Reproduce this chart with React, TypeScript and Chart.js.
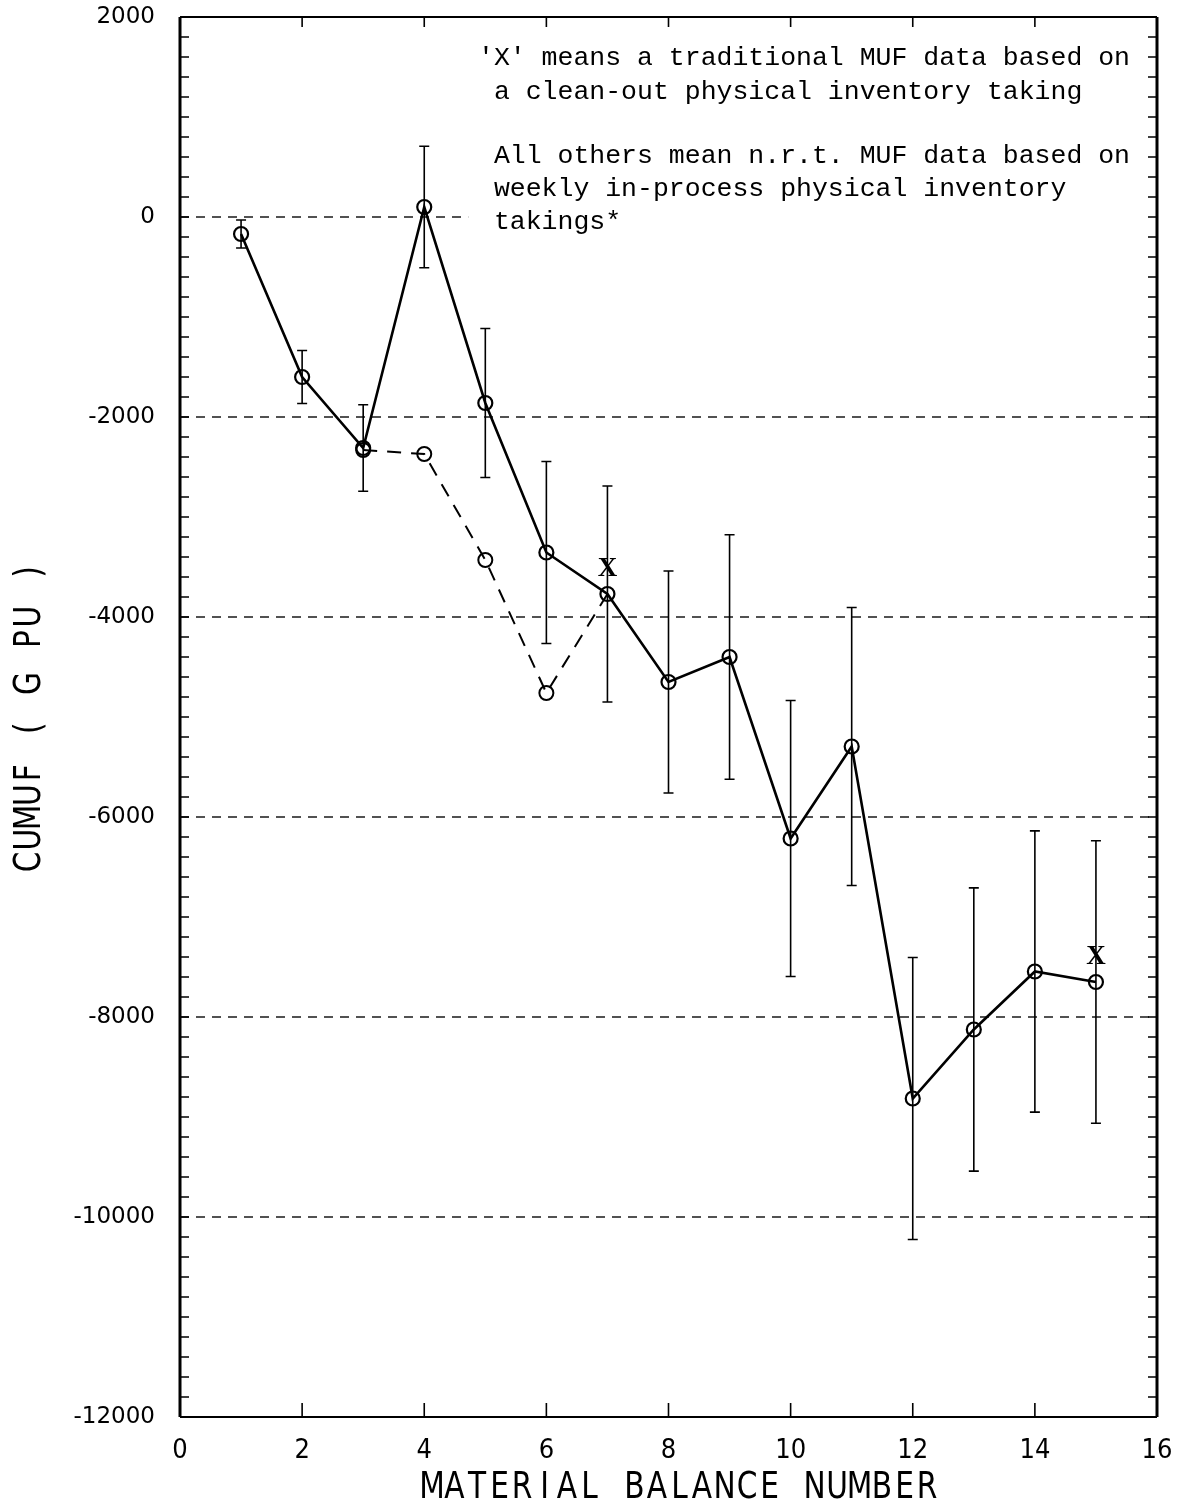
import React, { useEffect, useRef } from "react";
import { Chart, registerables } from "chart.js";

Chart.register(...registerables);

// ---- data ----
const balanceNumbers = [1, 2, 3, 4, 5, 6, 7, 8, 9, 10, 11, 12, 13, 14, 15];
const cumuf = [-170, -1600, -2310, 100, -1860, -3355, -3770, -4650, -4400, -6215, -5295, -8815, -8125, -7545, -7650];
const cumufError = [140, 265, 433, 607, 745, 910, 1080, 1110, 1222, 1380, 1390, 1410, 1416, 1406, 1412];

const altNumbers = [3, 4, 5, 6, 7];
const altCumuf = [-2330, -2370, -3430, -4760, -3770];
const altPointRadius = [7, 7, 7, 7, 0];

const traditionalNumbers = [7, 15];
const traditionalCumuf = [-3520, -7400];

const xMin = 0;
const xMax = 16;
const xStep = 2;
const yMin = -12000;
const yMax = 2000;
const yStep = 2000;
const yMinorStep = 200;
const gridValues = [0, -2000, -4000, -6000, -8000, -10000];
const zeroGridEnd = 4.72;

const xTitle = "MATERIAL BALANCE NUMBER";
const yTitle = "CUMUF ( G PU )";
const noteLines = [
  "'X' means a traditional MUF data based on",
  " a clean-out physical inventory taking",
  "",
  " All others mean n.r.t. MUF data based on",
  " weekly in-process physical inventory",
  " takings*",
];

function drawPlotterText(ctx: any, text: string, cx: number, cy: number, step: number) {
  const n = text.length;
  const start = cx - ((n - 1) * step) / 2;
  for (let i = 0; i < n; i++) {
    const ch = text[i];
    if (ch === " ") continue;
    ctx.save();
    ctx.translate(start + i * step, cy);
    ctx.scale(0.78, 1);
    ctx.fillText(ch, 0, 0);
    ctx.restore();
  }
}

const decorPlugin = {
  id: "decor",
  beforeDatasetsDraw(chart: any) {
    const { ctx, chartArea: a, scales } = chart;
    const x = scales.x;
    const y = scales.y;
    ctx.save();
    ctx.strokeStyle = "#1a1a1a";
    ctx.lineWidth = 1.4;
    ctx.setLineDash([9, 7]);
    gridValues.forEach((v) => {
      const py = y.getPixelForValue(v);
      const xe = v === 0 ? x.getPixelForValue(zeroGridEnd) : a.right;
      ctx.beginPath();
      ctx.moveTo(a.left, py);
      ctx.lineTo(xe, py);
      ctx.stroke();
    });
    ctx.setLineDash([]);
    ctx.strokeStyle = "#000";
    ctx.lineWidth = 1.6;
    balanceNumbers.forEach((n, i) => {
      const px = x.getPixelForValue(n);
      const top = y.getPixelForValue(cumuf[i] + cumufError[i]);
      const bot = y.getPixelForValue(cumuf[i] - cumufError[i]);
      ctx.beginPath();
      ctx.moveTo(px, top);
      ctx.lineTo(px, bot);
      ctx.moveTo(px - 5, top);
      ctx.lineTo(px + 5, top);
      ctx.moveTo(px - 5, bot);
      ctx.lineTo(px + 5, bot);
      ctx.stroke();
    });
    ctx.restore();
  },
  afterDatasetsDraw(chart: any) {
    const { ctx, chartArea: a, scales } = chart;
    const x = scales.x;
    const y = scales.y;
    ctx.save();
    ctx.strokeStyle = "#000";
    ctx.fillStyle = "#000";
    ctx.lineWidth = 3;
    ctx.beginPath();
    ctx.moveTo(a.left, a.top);
    ctx.lineTo(a.left, a.bottom);
    ctx.moveTo(a.right, a.top);
    ctx.lineTo(a.right, a.bottom);
    ctx.stroke();
    ctx.lineWidth = 2.2;
    ctx.beginPath();
    ctx.moveTo(a.left, a.top);
    ctx.lineTo(a.right, a.top);
    ctx.moveTo(a.left, a.bottom);
    ctx.lineTo(a.right, a.bottom);
    ctx.stroke();
    ctx.lineWidth = 1.6;
    ctx.beginPath();
    for (let v = yMin + yMinorStep; v < yMax; v += yMinorStep) {
      const py = y.getPixelForValue(v);
      ctx.moveTo(a.left, py);
      ctx.lineTo(a.left + 9, py);
      ctx.moveTo(a.right, py);
      ctx.lineTo(a.right - 9, py);
    }
    for (let v = xMin + xStep; v < xMax; v += xStep) {
      const px = x.getPixelForValue(v);
      ctx.moveTo(px, a.top);
      ctx.lineTo(px, a.top + 10);
      ctx.moveTo(px, a.bottom);
      ctx.lineTo(px, a.bottom - 14);
    }
    ctx.stroke();
    // traditional 'X' marks
    ctx.font = "bold 27px 'Liberation Serif', 'DejaVu Serif', serif";
    ctx.textAlign = "center";
    ctx.textBaseline = "middle";
    traditionalNumbers.forEach((n, i) => {
      ctx.fillText("X", x.getPixelForValue(n), y.getPixelForValue(traditionalCumuf[i]));
    });
    // note
    ctx.font = "26.5px 'Liberation Mono', 'DejaVu Sans Mono', monospace";
    ctx.textAlign = "left";
    ctx.textBaseline = "alphabetic";
    const noteLeft = a.left + 298;
    const baselines = [65, 99, 0, 163, 196, 229];
    noteLines.forEach((t, i) => {
      if (t) ctx.fillText(t, noteLeft, baselines[i]);
    });
    // axis titles (plotter-like lettering)
    ctx.font = "38px 'DejaVu Sans', sans-serif";
    ctx.textAlign = "center";
    ctx.textBaseline = "middle";
    drawPlotterText(ctx, xTitle, (a.left + a.right) / 2 + 11, 1488, 22.5);
    ctx.save();
    ctx.translate(30, (a.top + a.bottom) / 2);
    ctx.rotate(-Math.PI / 2);
    drawPlotterText(ctx, yTitle, 0, 0, 22.3);
    ctx.restore();
    ctx.restore();
  },
};

export default function App() {
  const ref = useRef<HTMLCanvasElement>(null);
  useEffect(() => {
    document.body.style.margin = "0";
    const canvas = ref.current;
    if (!canvas) return;
    const mainData = balanceNumbers.map((n, i) => ({ x: n, y: cumuf[i] }));
    const altData = altNumbers.map((n, i) => ({ x: n, y: altCumuf[i] }));
    const chart = new Chart(canvas, {
      type: "scatter",
      data: {
        datasets: [
          {
            label: "alt",
            data: altData,
            showLine: true,
            borderColor: "#000",
            borderWidth: 2,
            borderDash: [14, 10],
            pointRadius: altPointRadius,
            pointBorderWidth: 2,
            pointBorderColor: "#000",
            pointBackgroundColor: "rgba(0,0,0,0)",
          },
          {
            label: "CUMUF",
            data: mainData,
            showLine: true,
            borderColor: "#000",
            borderWidth: 2.6,
            pointRadius: 7,
            pointBorderWidth: 2.2,
            pointBorderColor: "#000",
            pointBackgroundColor: "rgba(0,0,0,0)",
          },
        ],
      },
      options: {
        animation: false,
        responsive: false,
        devicePixelRatio: 1,
        layout: { padding: { left: 0, top: 17, right: 27, bottom: 0 } },
        plugins: { legend: { display: false }, tooltip: { enabled: false } },
        scales: {
          x: {
            type: "linear",
            min: xMin,
            max: xMax,
            border: { display: false },
            grid: { display: false, drawTicks: false },
            ticks: {
              stepSize: xStep,
              padding: 18,
              color: "#000",
              font: { family: "'DejaVu Sans Condensed', 'DejaVu Sans Mono', monospace", size: 27 },
              maxRotation: 0,
            },
            afterFit: (s: any) => {
              s.height = 91;
              s.paddingLeft = 0;
              s.paddingRight = 0;
            },
          },
          y: {
            type: "linear",
            min: yMin,
            max: yMax,
            border: { display: false },
            grid: { display: false, drawTicks: false },
            ticks: {
              stepSize: yStep,
              padding: 25,
              color: "#000",
              font: { family: "'DejaVu Sans', sans-serif", size: 23 },
              callback: (v: any) => String(v),
            },
            afterFit: (s: any) => {
              s.width = 180;
              s.paddingTop = 0;
              s.paddingBottom = 0;
            },
          },
        },
      },
      plugins: [decorPlugin],
    });
    return () => chart.destroy();
  }, []);
  return (
    <div style={{ width: 1184, height: 1508, background: "#fff" }}>
      <canvas ref={ref} width={1184} height={1508} style={{ display: "block" }} />
    </div>
  );
}
